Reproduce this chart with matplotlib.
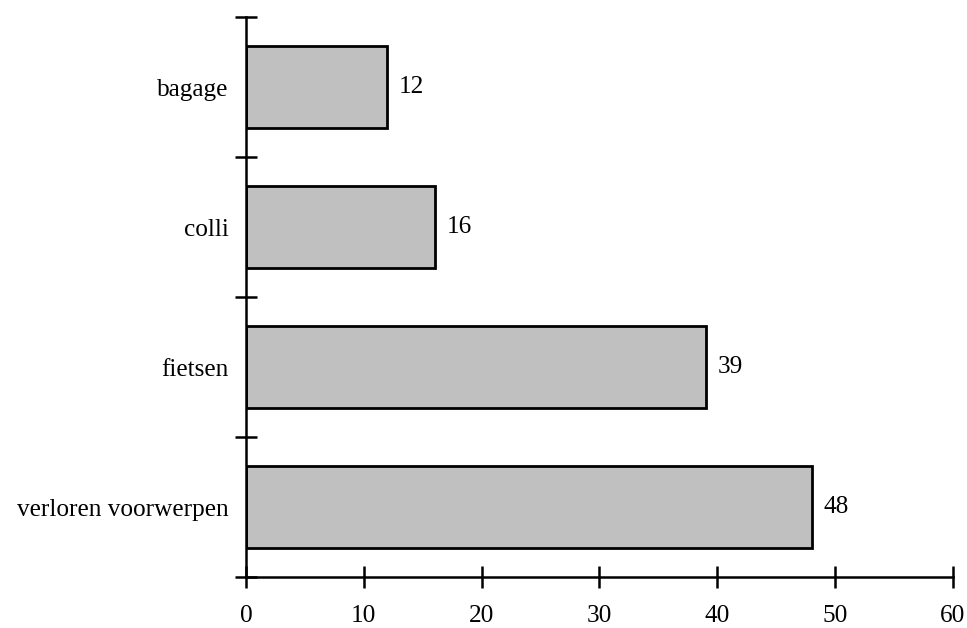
import matplotlib.pyplot as plt

# ----------------------------
# Data
# ----------------------------
categories = ["verloren voorwerpen", "fietsen", "colli", "bagage"]
values = [48, 39, 16, 12]
x_ticks = [0, 10, 20, 30, 40, 50, 60]

plt.rcParams["font.family"] = ["Liberation Serif", "DejaVu Serif"]
FS = 18.2

fig = plt.figure(figsize=(9.67, 6.28), dpi=100)
ax = fig.add_axes([0.2544, 0.0812, 0.7311, 0.8917])

pos = list(range(len(categories)))
bars = ax.barh(pos, values, height=0.59, color="#c0c0c0",
               edgecolor="black", linewidth=2)

for y, v in zip(pos, values):
    ax.text(v + 1.0, y, str(v), va="center", ha="left", fontsize=FS)

ax.set_xlim(0, 60)
ax.set_ylim(-0.5, len(categories) - 0.5)
ax.set_xticks(x_ticks)
ax.set_xticklabels([str(t) for t in x_ticks], fontsize=FS)

# boundary ticks on the y axis, labels in the middle of each band
ax.set_yticks([p - 0.5 for p in pos] + [len(categories) - 0.5])
ax.set_yticklabels([])
ax.set_yticks(pos, minor=True)
ax.set_yticklabels(categories, minor=True, fontsize=FS)
ax.tick_params(axis="y", which="minor", length=0, pad=12.5)

ax.tick_params(axis="both", which="major", direction="inout",
               length=16, width=1.8, color="black")
ax.tick_params(axis="x", pad=12)

for side in ["top", "right"]:
    ax.spines[side].set_visible(False)
for side in ["left", "bottom"]:
    ax.spines[side].set_linewidth(1.8)

fig.savefig("out.png", dpi=100)
